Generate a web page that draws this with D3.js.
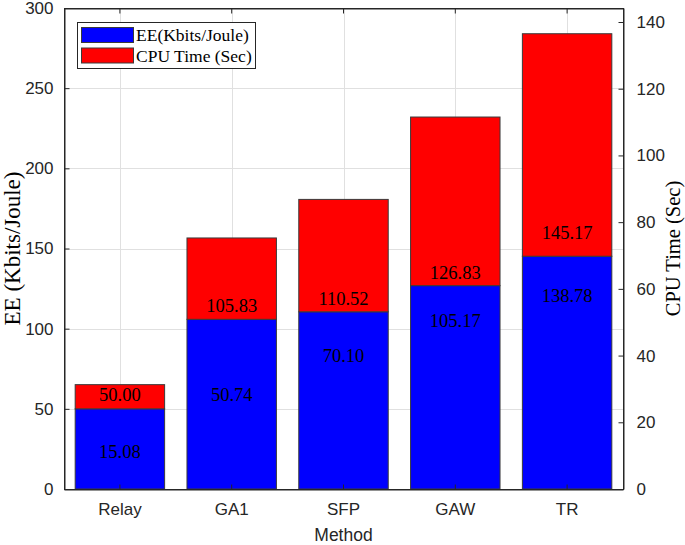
<!DOCTYPE html>
<html>
<head>
<meta charset="utf-8">
<script src="https://cdn.jsdelivr.net/npm/d3@7"></script>
<style>
  html, body { margin: 0; padding: 0; background: #fff; }
  svg { display: block; }
</style>
</head>
<body>
<svg id="chart" width="685" height="545"></svg>
<script>
// ---- data ----
const categories = ["Relay", "GA1", "SFP", "GAW", "TR"];
const eeValues  = [50.00, 105.83, 110.52, 126.83, 145.17];   // blue, bottom
const cpuValues = [15.08, 50.74, 70.10, 105.17, 138.78];     // red, stacked on top
// label anchors (left-axis units)
const eeLabelAt  = [58.6, 114.2, 118.5, 135.0, 159.9];
const cpuLabelAt = [23.1, 58.6, 83.1, 104.8, 120.3];
const leftTicks  = [0, 50, 100, 150, 200, 250, 300];
const rightTicks = [0, 20, 40, 60, 80, 100, 120, 140];
const seriesNames = ["EE(Kbits/Joule)", "CPU Time (Sec)"];
const seriesColors = ["#0000ff", "#ff0000"];

// ---- layout ----
const svg = d3.select("#chart");
const X0 = 64, X1 = 623, Y0 = 8, Y1 = 489;
const axisColor = "#262626";
const sans = "'Liberation Sans', Arial, sans-serif";
const serif = "'Liberation Serif', 'Times New Roman', serif";

const x = d3.scaleBand().domain(categories).range([X0, X1]).paddingInner(0.2).paddingOuter(0.1);
const yL = d3.scaleLinear().domain([0, 300]).range([Y1, Y0]);
const yR = d3.scaleLinear().domain([0, 144.2]).range([Y1, Y0]);

// grid
const grid = svg.append("g").attr("stroke", "#e0e0e0").attr("stroke-width", 1);
leftTicks.filter(t => t > 0 && t < 300).forEach(t => {
  grid.append("line").attr("x1", X0).attr("x2", X1)
    .attr("y1", Math.round(yL(t)) + 0.5).attr("y2", Math.round(yL(t)) + 0.5);
});
categories.forEach(c => {
  const cx = Math.round(x(c) + x.bandwidth() / 2) + 0.5;
  grid.append("line").attr("x1", cx).attr("x2", cx).attr("y1", Y0).attr("y2", Y1);
});

// stacked data
const rows = categories.map((c, i) => ({ cat: c, ee: eeValues[i], cpu: cpuValues[i] }));
const stack = d3.stack().keys(["ee", "cpu"])(rows);

const barG = svg.append("g");
stack.forEach((layer, li) => {
  barG.selectAll(null).data(layer).enter().append("rect")
    .attr("x", d => x(d.data.cat))
    .attr("width", x.bandwidth())
    .attr("y", d => yL(d[1]))
    .attr("height", d => yL(d[0]) - yL(d[1]))
    .attr("fill", seriesColors[li])
    .attr("stroke", "#3a3a3a")
    .attr("stroke-width", 1);
});

// value labels
const lab = svg.append("g").attr("font-family", serif).attr("font-size", 18.5)
  .attr("fill", "#000").attr("text-anchor", "middle").attr("dominant-baseline", "central");
rows.forEach((r, i) => {
  const cx = x(r.cat) + x.bandwidth() / 2;
  lab.append("text").attr("x", cx).attr("y", yL(eeLabelAt[i])).text(r.ee.toFixed(2));
  lab.append("text").attr("x", cx).attr("y", yL(cpuLabelAt[i])).text(r.cpu.toFixed(2));
});

// axes box
const ax = svg.append("g").attr("stroke", axisColor).attr("stroke-width", 1).attr("fill", "none");
ax.append("rect").attr("x", X0 + 0.5).attr("y", Y0 + 0.5).attr("width", X1 - X0).attr("height", Y1 - Y0);

// left axis
const leftAxis = d3.axisLeft(yL).tickValues(leftTicks).tickSizeInner(-5).tickSizeOuter(0).tickPadding(11);
const gl = svg.append("g").attr("transform", `translate(${X0 + 0.5},0)`).call(leftAxis);
// right axis
const rightAxis = d3.axisRight(yR).tickValues(rightTicks).tickSizeInner(-5).tickSizeOuter(0).tickPadding(13);
const gr = svg.append("g").attr("transform", `translate(${X1 + 0.5},0)`).call(rightAxis);
// bottom axis
const bottomAxis = d3.axisBottom(x).tickSizeInner(-5).tickSizeOuter(0).tickPadding(13);
const gb = svg.append("g").attr("transform", `translate(0,${Y1 + 0.5})`).call(bottomAxis);
// top ticks
const topAxis = d3.axisTop(x).tickSizeInner(-5).tickSizeOuter(0).tickFormat("");
const gt = svg.append("g").attr("transform", `translate(0,${Y0 + 0.5})`).call(topAxis);

[gl, gr, gb, gt].forEach(g => {
  g.select(".domain").attr("stroke", axisColor);
  g.selectAll(".tick line").attr("stroke", axisColor);
  g.selectAll(".tick text").attr("fill", axisColor).attr("font-family", sans).attr("font-size", 17);
});

// axis titles
svg.append("text").attr("x", (X0 + X1) / 2).attr("y", 535)
  .attr("text-anchor", "middle").attr("dominant-baseline", "central")
  .attr("font-family", sans).attr("font-size", 17.5).attr("fill", axisColor).text("Method");

svg.append("text").attr("transform", `translate(12,${(Y0 + Y1) / 2}) rotate(-90)`)
  .attr("text-anchor", "middle").attr("dominant-baseline", "central")
  .attr("font-family", serif).attr("font-size", 23).attr("fill", "#000").text("EE (Kbits/Joule)");

svg.append("text").attr("transform", `translate(673,${(Y0 + Y1) / 2}) rotate(-90)`)
  .attr("text-anchor", "middle").attr("dominant-baseline", "central")
  .attr("font-family", serif).attr("font-size", 20.5).attr("fill", "#000").text("CPU Time (Sec)");

// legend
const lg = svg.append("g");
lg.append("rect").attr("x", 77.5).attr("y", 22.5).attr("width", 178).attr("height", 46)
  .attr("fill", "#fff").attr("stroke", axisColor).attr("stroke-width", 1);
seriesNames.forEach((n, i) => {
  const yy = 27.5 + i * 20.5;
  lg.append("rect").attr("x", 81.5).attr("y", yy).attr("width", 52).attr("height", 15)
    .attr("fill", seriesColors[i]).attr("stroke", "#3a3a3a").attr("stroke-width", 1);
  lg.append("text").attr("x", 136).attr("y", yy + 7.5).attr("dominant-baseline", "central")
    .attr("font-family", serif).attr("font-size", 17.5).attr("fill", "#000").text(n);
});
</script>
</body>
</html>
